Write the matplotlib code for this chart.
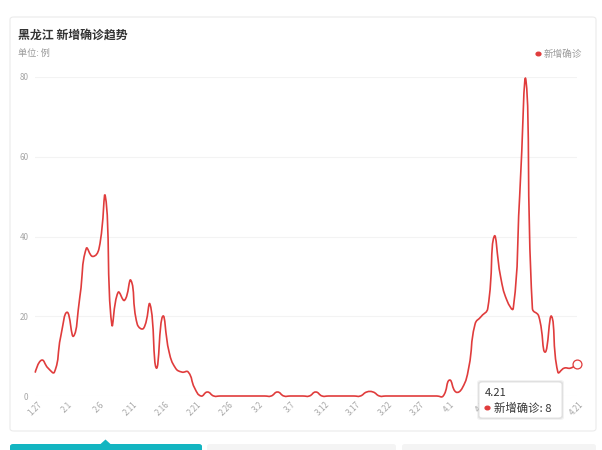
import numpy as np
import matplotlib
matplotlib.use("Agg")
import matplotlib.pyplot as plt
from matplotlib.path import Path
from matplotlib.patches import PathPatch, FancyBboxPatch, Polygon, Circle

plt.rcParams['font.family'] = ['Noto Sans CJK SC', 'DejaVu Sans']

# daily new confirmed cases, 1.27 .. 4.21
dates = ['1.27', '1.28', '1.29', '1.30', '1.31'] + \
        ['2.%d' % i for i in range(1, 30)] + \
        ['3.%d' % i for i in range(1, 32)] + \
        ['4.%d' % i for i in range(1, 22)]
new_cases = [6, 9, 7, 6, 15, 21, 15, 25, 37, 35,
             37, 50, 18, 26, 24, 29, 18, 17, 23, 7,
             20, 11, 7, 6, 6, 2, 0, 1, 0, 0,
             0, 0, 0, 0, 0, 0, 0, 0, 1, 0,
             0, 0, 0, 0, 1, 0, 0, 0, 0, 0,
             0, 0, 1, 1, 0, 0, 0, 0, 0, 0,
             0, 0, 0, 0, 0, 4, 1, 2, 7, 18,
             20, 22, 40, 30, 24, 22, 50, 79, 22, 20,
             11, 20, 6, 7, 7, 8]
y_ticks = [0, 20, 40, 60, 80]

W, H = 602, 450
RED = '#e03c3c'
GREY = '#a6a6a6'


def px(x, y):
    # pixel (top-left origin) -> figure fraction
    return x / W, 1 - y / H


def smooth_path(xs, ys, sx, sy, smooth=0.5):
    # bezier control points like echarts smooth lines (computed in screen scale)
    p = np.column_stack([np.asarray(xs, float) * sx, np.asarray(ys, float) * sy])
    n = len(p)
    verts = [p[0]]
    codes = [Path.MOVETO]
    cps = []
    for i in range(n):
        if i == 0 or i == n - 1:
            cps.append((p[i], p[i]))
            continue
        v = p[i + 1] - p[i - 1]
        l0 = np.hypot(*(p[i] - p[i - 1]))
        l1 = np.hypot(*(p[i + 1] - p[i]))
        r = l1 / (l0 + l1) if l0 + l1 > 0 else 0.5
        cps.append((p[i] - v * smooth * (1 - r), p[i] + v * smooth * r))
    for i in range(n - 1):
        verts += [cps[i][1], cps[i + 1][0], p[i + 1]]
        codes += [Path.CURVE4] * 3
    verts = np.array(verts) / [sx, sy]
    return Path(verts, codes)


fig = plt.figure(figsize=(W / 100, H / 100), dpi=100)
fig.patch.set_facecolor('white')

# card
x0, y0 = px(10, 431)
x1, y1 = px(596, 17)
card = FancyBboxPatch((x0, y0), x1 - x0, y1 - y0, boxstyle='round,pad=0,rounding_size=0.006',
                      transform=fig.transFigure, facecolor='white', edgecolor='#ebebeb',
                      linewidth=0.8, zorder=-5)
fig.add_artist(card)

fig.text(*px(18, 35), '黑龙江 新增确诊趋势', fontsize=8.6, fontweight='bold', color='#333333',
         va='center', ha='left')
fig.text(*px(18, 53), '单位: 例', fontsize=6.6, color='#9a9a9a', va='center', ha='left')

# legend
fig.add_artist(Circle(px(538.5, 54), 2.4 / W, transform=fig.transFigure, color=RED, zorder=3))
fig.text(*px(544, 54), '新增确诊', fontsize=6.9, color='#9a9a9a', va='center', ha='left')

# plot area
l, b = px(35.3, 396)
r, t = px(577, 77)
ax = fig.add_axes([l, b, r - l, t - b])
ax.patch.set_alpha(0)
days = np.arange(len(new_cases))
ax.set_xlim(0, len(new_cases) - 1)
ax.set_ylim(0, 80)
for sp in ax.spines.values():
    sp.set_visible(False)
for v in y_ticks:
    ax.axhline(v, color='#f3f3f3', lw=0.8, zorder=0)
ax.set_yticks(y_ticks)
ax.set_yticklabels([str(v) for v in y_ticks], fontsize=5.8, color=GREY)
tick_idx = list(range(0, len(dates), 5))
ax.set_xticks(tick_idx)
ax.set_xticklabels([dates[i] for i in tick_idx], fontsize=5.8, color=GREY,
                   rotation=45, ha='center', va='top')
ax.tick_params(axis='both', length=0)
ax.tick_params(axis='x', pad=3)
ax.tick_params(axis='y', pad=5)

# axis pointer
ax.axvline(days[-1], color='#cfcfcf', lw=0.7, ls=(0, (1.5, 1.5)), zorder=1)

path = smooth_path(days, new_cases, 6.376, 4.0)
ax.add_patch(PathPatch(path, fill=False, edgecolor=RED, lw=1.2, zorder=3, capstyle='round',
                       joinstyle='round', clip_on=False))
ax.plot(days[-1], new_cases[-1], 'o', ms=6.4, mfc='white', mec=RED, mew=0.9, zorder=4,
        clip_on=False)

# tooltip
tx0, ty0 = px(479, 418)
tx1, ty1 = px(562, 382)
for k, a in [(2.0, 0.05), (1.0, 0.07)]:
    sh = FancyBboxPatch((tx0 - k / W, ty0 - k / H), tx1 - tx0 + 2 * k / W, ty1 - ty0 + 2 * k / H,
                        boxstyle='round,pad=0,rounding_size=0.006', transform=fig.transFigure,
                        facecolor='black', edgecolor='none', alpha=a, zorder=5)
    fig.add_artist(sh)
tip = FancyBboxPatch((tx0, ty0), tx1 - tx0, ty1 - ty0, boxstyle='round,pad=0,rounding_size=0.006',
                     transform=fig.transFigure, facecolor='white', edgecolor='#e2e2e2',
                     linewidth=0.7, zorder=6)
fig.add_artist(tip)
fig.text(*px(485, 393), dates[-1], fontsize=8, color='#333333', va='center', ha='left', zorder=7)
fig.add_artist(Circle(px(487.5, 408), 2.4 / W, transform=fig.transFigure, color=RED, zorder=7))
fig.text(*px(494, 408), '新增确诊: %d' % new_cases[-1], fontsize=8.2, color='#333333',
         va='center', ha='left', zorder=7)

# bottom tabs
bx0, by0 = px(10, 452)
bx1, by1 = px(202, 444)
fig.add_artist(FancyBboxPatch((bx0, by0), bx1 - bx0, by1 - by0,
                              boxstyle='round,pad=0,rounding_size=0.005',
                              transform=fig.transFigure, facecolor='#13b5c1', edgecolor='none',
                              zorder=2))
fig.add_artist(Polygon([px(100, 444.5), px(105.5, 439.5), px(111, 444.5)], closed=True,
                       transform=fig.transFigure, facecolor='#13b5c1', edgecolor='none', zorder=2))
for a0, a1 in [(207, 396), (402, 596)]:
    gx0, gy0 = px(a0, 452)
    gx1, gy1 = px(a1, 444)
    fig.add_artist(FancyBboxPatch((gx0, gy0), gx1 - gx0, gy1 - gy0,
                                  boxstyle='round,pad=0,rounding_size=0.005',
                                  transform=fig.transFigure, facecolor='#f4f4f4',
                                  edgecolor='none', zorder=2))

fig.savefig('out.png', dpi=100)
